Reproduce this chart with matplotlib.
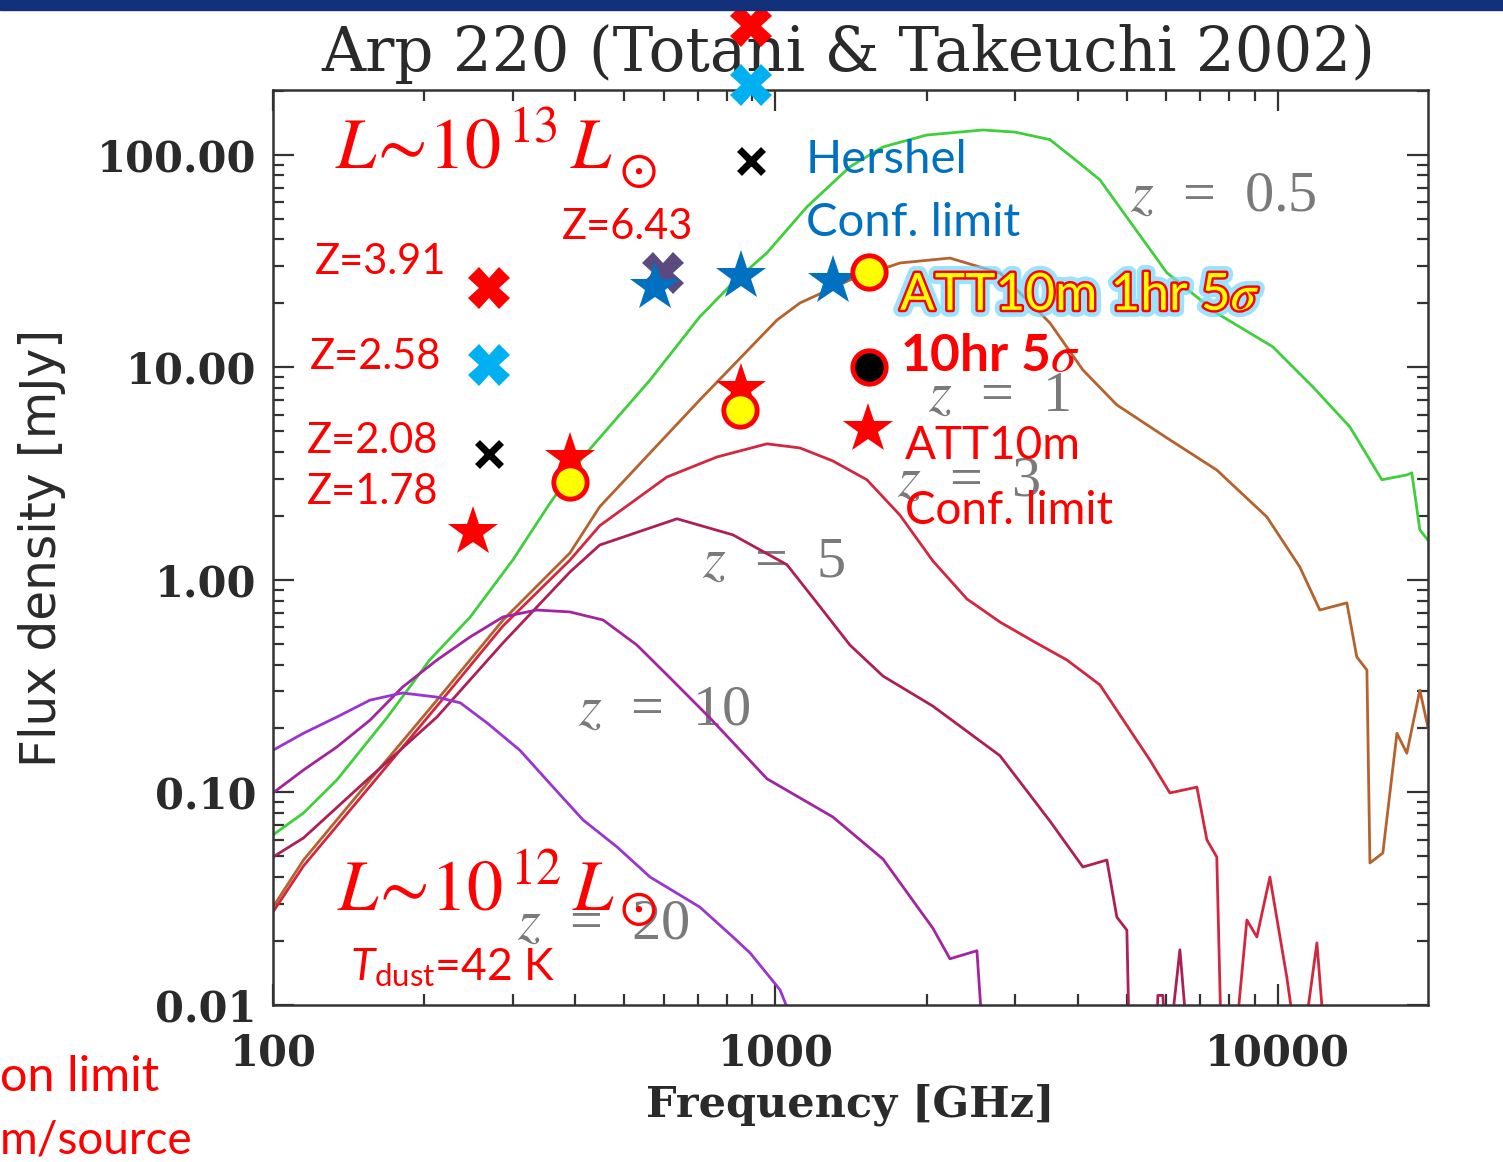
import matplotlib
matplotlib.use("Agg")
import matplotlib.pyplot as plt
import matplotlib.patheffects as pe
from matplotlib.patches import Rectangle
from matplotlib.ticker import NullFormatter

plt.rcParams.update({"mathtext.fontset": "custom", "mathtext.rm": "Lato",
                     "mathtext.it": "Lato:italic", "mathtext.bf": "Lato:bold"})
W, H = 1503, 1162
RED = "#ff0000"; BLUE = "#0070c0"; CYAN = "#00b0f0"; GRAY = "#7a7a7a"; INK = "#2a2a2a"

# Arp 220 template SED seen at redshift z (frequency GHz, flux density mJy)
z05_freq = [100, 115, 134, 169, 205, 247, 300, 356, 414, 563, 707, 823, 962, 1155, 1407, 1637, 2000,
            2588, 3000, 3518, 4000, 4424, 6013, 7559, 9772, 11740, 13910, 16110, 18060, 18480, 19170, 19890]
z05_flux = [0.0631, 0.0801, 0.1145, 0.2265, 0.42, 0.67, 1.24, 2.30, 3.79, 8.73, 17.3, 25.0, 34.6, 56.9, 87.9, 109, 124,
            131, 128, 118, 92.7, 76.3, 27.9, 18.0, 12.5, 8.10, 5.25, 2.96, 3.12, 3.19, 1.72, 1.54]
z1_freq = [100, 115, 156, 212, 287, 390, 447, 563, 707, 1007, 1119, 1407, 1769, 2225, 2798, 3518, 4092, 4782,
           6013, 7559, 9508, 11060, 12120, 13720, 14360, 15040, 15250, 16180, 17260, 18060, 19170, 19890]
z1_flux = [0.0289, 0.0481, 0.1145, 0.272, 0.648, 1.34, 2.21, 3.96, 7.03, 16.7, 20.1, 25.8, 31.0, 32.7, 27.8, 16.2, 9.73, 6.66,
           4.66, 3.29, 1.98, 1.15, 0.722, 0.78, 0.434, 0.377, 0.0466, 0.0519, 0.19, 0.153, 0.303, 0.203]
z3_freq = [100, 115, 156, 212, 287, 390, 447, 608, 765, 962, 1119, 1301, 1521, 1769, 2057, 2405, 2798, 3254, 3804,
           4424, 5564, 6098, 6900, 7224, 7559, 7738, 8136, 8677, 9083, 9641, 10420, 11060, 11960, 12520]
z3_flux = [0.0274, 0.0451, 0.107, 0.255, 0.608, 1.24, 1.80, 3.05, 3.79, 4.37, 4.18, 3.63, 2.96, 2.02, 1.23, 0.814, 0.634, 0.516, 0.42,
           0.321, 0.142, 0.0995, 0.106, 0.0598, 0.0497, 0.005, 0.005, 0.0251, 0.0209, 0.040, 0.0135, 0.005, 0.0196, 0.005]
z5_freq = [100, 115, 156, 212, 287, 390, 447, 637, 823, 1054, 1210, 1407, 1637, 2057, 2798, 3518, 4092, 4567,
           4782, 5006, 5075, 5692, 5771, 5904, 6013, 6383, 6682]
z5_flux = [0.0497, 0.0611, 0.118, 0.2265, 0.506, 1.09, 1.46, 1.94, 1.63, 1.18, 0.78, 0.494, 0.353, 0.255, 0.149, 0.0734, 0.0446, 0.0481,
           0.0259, 0.0225, 0.005, 0.005, 0.0111, 0.0111, 0.005, 0.0182, 0.005]
z10_freq = [100, 115, 134, 156, 181, 212, 247, 287, 335, 390, 454, 530, 617, 741, 962, 1301, 1637, 2057, 2225, 2518, 2612]
z10_flux = [0.0995, 0.1276, 0.1637, 0.219, 0.313, 0.42, 0.54, 0.67, 0.722, 0.707, 0.648, 0.494, 0.346, 0.224, 0.116, 0.0767,
            0.0486, 0.0230, 0.0165, 0.0180, 0.005]
z20_freq = [100, 115, 134, 156, 181, 212, 236, 267, 310, 361, 414, 484, 563, 707, 823, 890, 1021, 1069]
z20_flux = [0.158, 0.19, 0.2265, 0.272, 0.294, 0.281, 0.264, 0.212, 0.158, 0.106, 0.0743, 0.0554, 0.040, 0.0289, 0.0209,
            0.0176, 0.0118, 0.009]
curves = [(z05_freq, z05_flux, "#3fcf3a", "0.5"), (z1_freq, z1_flux, "#b5622d", "1"),
          (z3_freq, z3_flux, "#d2273f", "3"), (z5_freq, z5_flux, "#ad1f55", "5"),
          (z10_freq, z10_flux, "#a324a0", "10"), (z20_freq, z20_flux, "#9a35d2", "20")]

# overlaid source / sensitivity markers
redX_freq, redX_flux = [894, 269], [405, 23.7]
cyanX_freq, cyanX_flux = [894, 269], [213, 10.3]
blackx_freq, blackx_flux = [894, 269], [93.7, 3.92]
purpleX_freq, purpleX_flux = [597], [27.8]
bstar_freq, bstar_flux = [576, 854, 1301], [24.0, 27.0, 25.5]
rstar_freq, rstar_flux = [250, 390, 854, 1527], [1.68, 3.75, 7.92, 5.14]
ydot_freq, ydot_flux = [390, 850, 1535], [2.89, 6.31, 28.1]
kdot_freq, kdot_flux = [1535], [10.05]

fig = plt.figure(figsize=(W / 100, H / 100), dpi=100)
fig.add_artist(Rectangle((0, 1 - 10 / H), 1, 10 / H, transform=fig.transFigure, color="#13307a", zorder=5))
ax = fig.add_axes([273 / W, 1 - 1005 / H, (1428 - 273) / W, (1005 - 90) / H])
ax.set_xscale("log"); ax.set_yscale("log")
ax.set_xlim(100, 19900); ax.set_ylim(0.01, 202)

for f, s, c, z in curves:
    ax.plot(f, s, color=c, lw=2.0, zorder=2)

mk = dict(ls="none", clip_on=False)
ax.plot(redX_freq, redX_flux, marker="X", ms=30, color=RED, mew=0, zorder=6, **mk)
ax.plot(cyanX_freq, cyanX_flux, marker="X", ms=30, color=CYAN, mew=0, zorder=6, **mk)
ax.plot(blackx_freq, blackx_flux, marker="x", ms=17, color="black", mew=5, zorder=6, **mk)
ax.plot(purpleX_freq, purpleX_flux, marker="X", ms=30, color="#5b4a7f", mew=0, zorder=6, **mk)
ax.plot(bstar_freq, bstar_flux, marker="*", ms=38, color=BLUE, mew=0, zorder=7, **mk)
ax.plot(rstar_freq, rstar_flux, marker="*", ms=38, color=RED, mew=0, zorder=7, **mk)
ax.plot(ydot_freq, ydot_flux, marker="o", ms=24, mfc="#ffff00", mec=RED, mew=3.5, zorder=8, **mk)
ax.plot(kdot_freq, kdot_flux, marker="o", ms=24, mfc="black", mec=RED, mew=3.5, zorder=8, **mk)

tickfont = dict(family="DejaVu Serif", fontweight="bold", fontsize=30, color=INK)
ax.set_yticks([0.01, 0.1, 1, 10, 100]); ax.set_yticklabels(["0.01", "0.10", "1.00", "10.00", "100.00"], **tickfont)
ax.set_xticks([100, 1000, 10000]); ax.set_xticklabels(["100", "1000", "10000"], **tickfont)
ax.xaxis.set_minor_formatter(NullFormatter()); ax.yaxis.set_minor_formatter(NullFormatter())
ax.tick_params(which="both", direction="in", top=True, right=True, color="#333333", width=1.6)
ax.tick_params(which="major", length=15)
ax.tick_params(which="minor", length=8)
ax.tick_params(axis="x", pad=20); ax.tick_params(axis="y", pad=12)
for sp in ax.spines.values():
    sp.set_linewidth(1.8); sp.set_color("#333333")


def put(px, py, s, **kw):
    kw.setdefault("va", "center")
    return ax.text(px / W, 1 - py / H, s, transform=fig.transFigure, clip_on=False, **kw)


# chart texts
put(848, 54, "Arp 220 (Totani & Takeuchi 2002)", family="DejaVu Serif", fontsize=44, ha="center",
    color=INK, zorder=-1)
put(850, 1105, "Frequency [GHz]", family="DejaVu Serif", fontweight="bold", fontsize=31, ha="center", color=INK)
put(42, 548, "Flux density [mJy]", family="DejaVu Sans", fontsize=35, rotation=90, ha="center", color=INK)
zpos = {"0.5": (1130, 197), "1": (928, 397), "3": (897, 482), "5": (702, 563), "10": (578, 711), "20": (517, 925)}
for f, s, c, z in curves:
    px, py = zpos[z]
    put(px, py, "$z$  =  " + z, family="Liberation Serif", math_fontfamily="stix", fontsize=42,
        color=GRAY, zorder=1)

# slide annotations
lato = dict(family="Lato", fontsize=30, color=RED, zorder=9)
put(315, 262, "Z=3.91", **lato)
put(562, 227, "Z=6.43", **lato)
put(310, 357, "Z=2.58", **lato)
put(307, 441, "Z=2.08", **lato)
put(307, 492, "Z=1.78", **lato)
sun = dict(math_fontfamily="stix", fontsize=36, color=RED, ha="center", zorder=9)
put(335, 168, r"$L\!\sim\!10^{\,13}\,L$", math_fontfamily="stix", fontsize=52, color=RED, va="baseline", zorder=9)
put(638, 170, r"$\odot$", **sun)
put(337, 910, r"$L\!\sim\!10^{\,12}\,L$", math_fontfamily="stix", fontsize=52, color=RED, va="baseline", zorder=9)
put(638, 908, r"$\odot$", **sun)
put(350, 980, r"$T_{\mathrm{dust}}$=42 K", family="Lato", fontsize=32, color=RED, va="baseline", zorder=9)
put(806, 160, "Hershel", family="Lato", fontsize=34, color=BLUE, zorder=9)
put(806, 223, "Conf. limit", family="Lato", fontsize=34, color=BLUE, zorder=9)
put(900, 296, r"ATT10m 1hr 5$\sigma$", family="Lato", math_fontfamily="stix", fontsize=37, color="#ffff00",
    zorder=9, path_effects=[pe.withStroke(linewidth=10, foreground="#6fd8ff", alpha=0.7),
                            pe.withStroke(linewidth=3.5, foreground=RED)])
put(900, 357, r"10hr 5$\sigma$", family="Lato", fontweight="bold", math_fontfamily="stix", fontsize=37,
    color=RED, zorder=9)
put(905, 446, "ATT10m", family="Lato", fontsize=33, color=RED, zorder=9)
put(905, 511, "Conf. limit", family="Lato", fontsize=33, color=RED, zorder=9)
fig.text(0, 1 - 1077 / H, "on limit", family="Lato", fontsize=35, color=RED, va="center")
fig.text(0, 1 - 1140 / H, "m/source", family="Lato", fontsize=33, color=RED, va="center")

fig.savefig("out.png", dpi=100, facecolor="white")
